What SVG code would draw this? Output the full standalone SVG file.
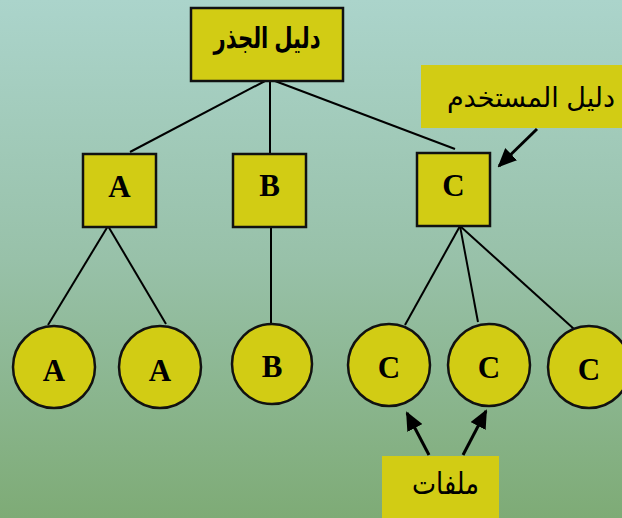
<svg xmlns="http://www.w3.org/2000/svg" width="622" height="518" viewBox="0 0 622 518">
  <style>
    .box { fill: #d2cc14; stroke: #111; stroke-width: 2.5; }
    .note { fill: #d2cc14; }
    .link { stroke: #000; stroke-width: 2; fill: none; }
    .ptr { stroke: #000; stroke-width: 3; fill: none; marker-end: url(#head); }
    .lbl { font-family: "Liberation Serif", "Times New Roman", serif; font-weight: bold; font-size: 31px; text-anchor: middle; fill: #000; }
    .ar { font-family: "Liberation Sans", "DejaVu Sans", sans-serif; text-anchor: middle; fill: #000; }
  </style>
  <defs>
    <linearGradient id="bg" x1="0" y1="0" x2="0" y2="1">
      <stop offset="0" stop-color="#abd4cb"/>
      <stop offset="0.5" stop-color="#98c1a9"/>
      <stop offset="1" stop-color="#7eab76"/>
    </linearGradient>
    <marker id="head" markerUnits="userSpaceOnUse" markerWidth="19" markerHeight="17" refX="17" refY="8.5" orient="auto">
      <path d="M0,0 L19,8.5 L0,17 Z" fill="#000"/>
    </marker>
  </defs>

  <rect x="0" y="0" width="622" height="518" fill="url(#bg)"/>

  <!-- tree edges and pointer arrows -->
  <g id="connectors">
    <line class="link" x1="265" y1="81" x2="130" y2="152"/>
    <line class="link" x1="270" y1="81" x2="270" y2="153"/>
    <line class="link" x1="275" y1="81" x2="455" y2="149"/>
    <line class="link" x1="108" y1="226" x2="48" y2="325"/>
    <line class="link" x1="108" y1="226" x2="166" y2="324"/>
    <line class="link" x1="271" y1="227" x2="271" y2="323"/>
    <line class="link" x1="460" y1="226" x2="405" y2="325"/>
    <line class="link" x1="460" y1="226" x2="478" y2="322"/>
    <line class="link" x1="460" y1="226" x2="574" y2="329"/>
    <line class="ptr" x1="537" y1="129" x2="499" y2="166"/>
    <line class="ptr" x1="429" y1="455" x2="407" y2="413"/>
    <line class="ptr" x1="463" y1="455" x2="486" y2="411"/>
  </g>

  <g id="root">
    <rect class="box" x="191" y="8" width="152" height="73"/>
    <text class="ar" x="267" y="48" font-size="29" font-weight="bold" textLength="107" lengthAdjust="spacingAndGlyphs">دليل الجذر</text>
  </g>

  <g id="dir-a">
    <rect class="box" x="83" y="154" width="73" height="73"/>
    <text class="lbl" x="119.5" y="197">A</text>
  </g>
  <g id="dir-b">
    <rect class="box" x="233" y="154" width="73" height="73"/>
    <text class="lbl" x="269.5" y="196">B</text>
  </g>
  <g id="dir-c">
    <rect class="box" x="417" y="153" width="73" height="73"/>
    <text class="lbl" x="453.5" y="196">C</text>
  </g>

  <g id="file-a1">
    <circle class="box" cx="54" cy="367" r="41"/>
    <text class="lbl" x="54" y="381">A</text>
  </g>
  <g id="file-a2">
    <circle class="box" cx="160" cy="367" r="41"/>
    <text class="lbl" x="160" y="381">A</text>
  </g>
  <g id="file-b">
    <circle class="box" cx="272" cy="364" r="40"/>
    <text class="lbl" x="272" y="377">B</text>
  </g>
  <g id="file-c1">
    <circle class="box" cx="389" cy="365" r="41"/>
    <text class="lbl" x="389" y="378">C</text>
  </g>
  <g id="file-c2">
    <circle class="box" cx="489" cy="365" r="41"/>
    <text class="lbl" x="489" y="378">C</text>
  </g>
  <g id="file-c3">
    <circle class="box" cx="589" cy="367" r="41"/>
    <text class="lbl" x="589" y="380">C</text>
  </g>

  <g id="user-dir-note">
    <rect class="note" x="421" y="65" width="201" height="63"/>
    <text class="ar" x="531" y="107" font-size="27">دليل المستخدم</text>
  </g>

  <g id="files-note">
    <rect class="note" x="382" y="456" width="117" height="62"/>
    <text class="ar" x="445.5" y="494" font-size="30" textLength="67" lengthAdjust="spacingAndGlyphs">ملفات</text>
  </g>
</svg>
